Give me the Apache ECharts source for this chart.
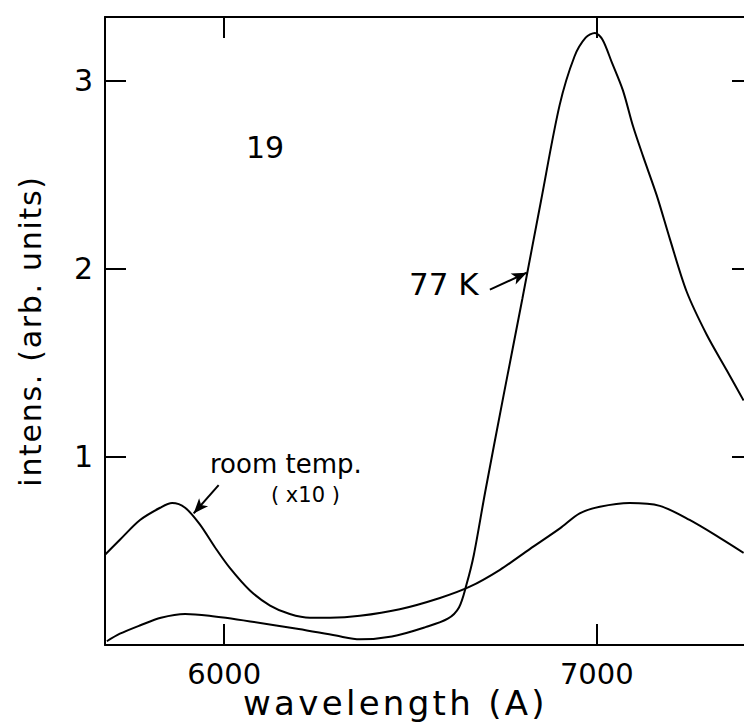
<!DOCTYPE html>
<html>
<head>
<meta charset="utf-8">
<script src="https://cdn.jsdelivr.net/npm/echarts@6/dist/echarts.min.js"></script>
<style>html,body{margin:0;padding:0;background:#fff}#c{width:744px;height:725px}</style>
</head>
<body>
<div id="c"></div>
<script>
// wavelength (Å), intensity (arb. units)
const wl77K = [5685,5720,5775,5830,5895,5960,6070,6200,6300,6364,6450,6540,6600,6630,6650,6670,6700,6750,6800,6850,6900,6940,6970,6995,7015,7040,7070,7097,7124,7161,7196,7241,7295,7349,7394];
const int77K = [0.02,0.06,0.105,0.145,0.165,0.155,0.125,0.085,0.05,0.03,0.045,0.095,0.14,0.2,0.32,0.48,0.81,1.33,1.84,2.36,2.87,3.13,3.23,3.255,3.22,3.10,2.95,2.76,2.60,2.39,2.16,1.88,1.65,1.46,1.30];
const wlRoom = [5680,5720,5774,5828,5860,5895,5935,5975,6015,6069,6123,6176,6230,6284,6364,6471,6579,6659,6740,6820,6901,6954,7008,7088,7169,7249,7330,7394];
const intRoom = [0.48,0.56,0.665,0.73,0.755,0.73,0.64,0.52,0.41,0.29,0.21,0.165,0.145,0.145,0.155,0.19,0.25,0.31,0.40,0.51,0.62,0.70,0.735,0.755,0.74,0.665,0.57,0.49];
const xTicks = [6000, 7000];
const yTicks = [1, 2, 3];

const FONT = 'DejaVu Sans';
const chart = echarts.init(document.getElementById('c'), null, {renderer: 'svg'});
const axisLine = {show: true, onZero: false, lineStyle: {color: '#000', width: 2}};
const tick = {show: true, inside: true, length: 21, lineStyle: {color: '#000', width: 2}};
chart.setOption({
  animation: false,
  backgroundColor: '#fff',
  grid: {left: 105, right: 0, top: 17, bottom: 80, containLabel: false},
  xAxis: [
    {type: 'value', position: 'bottom', min: 5680, max: 7395, axisLine,
     axisTick: Object.assign({customValues: xTicks}, tick),
     axisLabel: {customValues: xTicks, color: '#000', fontSize: 29, fontFamily: FONT, margin: 14,
       formatter: v => String(v)},
     splitLine: {show: false}},
    {type: 'value', position: 'top', min: 5680, max: 7395, axisLine,
     axisTick: Object.assign({customValues: xTicks}, tick),
     axisLabel: {show: false}, splitLine: {show: false}}
  ],
  yAxis: [
    {type: 'value', position: 'left', min: 0, max: 3.34, axisLine,
     axisTick: Object.assign({customValues: yTicks}, tick),
     axisLabel: {customValues: yTicks, color: '#000', fontSize: 30, fontFamily: FONT, margin: 12},
     splitLine: {show: false},
     name: 'intens. (arb. units)', nameLocation: 'middle', nameGap: 60,
     nameTextStyle: {color: '#000', fontSize: 30, fontFamily: FONT}},
    {type: 'value', position: 'right', min: 0, max: 3.34,
     axisLine: {show: false, onZero: false},
     axisTick: {show: true, inside: true, length: 12, customValues: yTicks, lineStyle: {color: '#000', width: 2}},
     axisLabel: {show: false}, splitLine: {show: false}}
  ],
  series: [
    {type: 'line', name: '77 K', data: wl77K.map((w, i) => [w, int77K[i]]),
     smooth: 0.3, showSymbol: false, lineStyle: {color: '#000', width: 2},
     markLine: {silent: true, symbol: ['none', 'arrow'], symbolSize: [9, 15],
       label: {show: false}, lineStyle: {color: '#000', width: 2, type: 'solid'},
       data: [[{coord: [6713, 1.89]}, {coord: [6812, 1.98]}]]}},
    {type: 'line', name: 'room temp. (x10)', data: wlRoom.map((w, i) => [w, intRoom[i]]),
     smooth: 0.3, showSymbol: false, lineStyle: {color: '#000', width: 2},
     markLine: {silent: true, symbol: ['none', 'arrow'], symbolSize: [9, 15],
       label: {show: false}, lineStyle: {color: '#000', width: 2, type: 'solid', curveness: -0.3},
       data: [[{coord: [5985, 0.85]}, {coord: [5918, 0.70]}]]}}
  ],
  graphic: [
    {type: 'text', left: 246, top: 132, style: {text: '19', font: '30px ' + FONT, fill: '#000'}},
    {type: 'text', left: 409, top: 268, style: {text: '77 K', font: '31px ' + FONT, fill: '#000'}},
    {type: 'text', left: 210, top: 451, style: {text: 'room temp.', font: '26px ' + FONT, fill: '#000'}},
    {type: 'text', left: 271, top: 484, style: {text: '( x10 )', font: '21px ' + FONT, fill: '#000'}},
    {type: 'text', left: 243, top: 686, style: {text: 'wavelength (A)', font: '34px ' + FONT, fill: '#000'}}
  ]
});
// hand-lettered labels of the original are widely spaced
const SPACING = {'wavelength (A)': '3.3px', 'intens. (arb. units)': '1.7px'};
document.querySelectorAll('#c svg text').forEach(t => {
  const s = SPACING[t.textContent];
  if (s) t.setAttribute('letter-spacing', s);
});
</script>
</body>
</html>
